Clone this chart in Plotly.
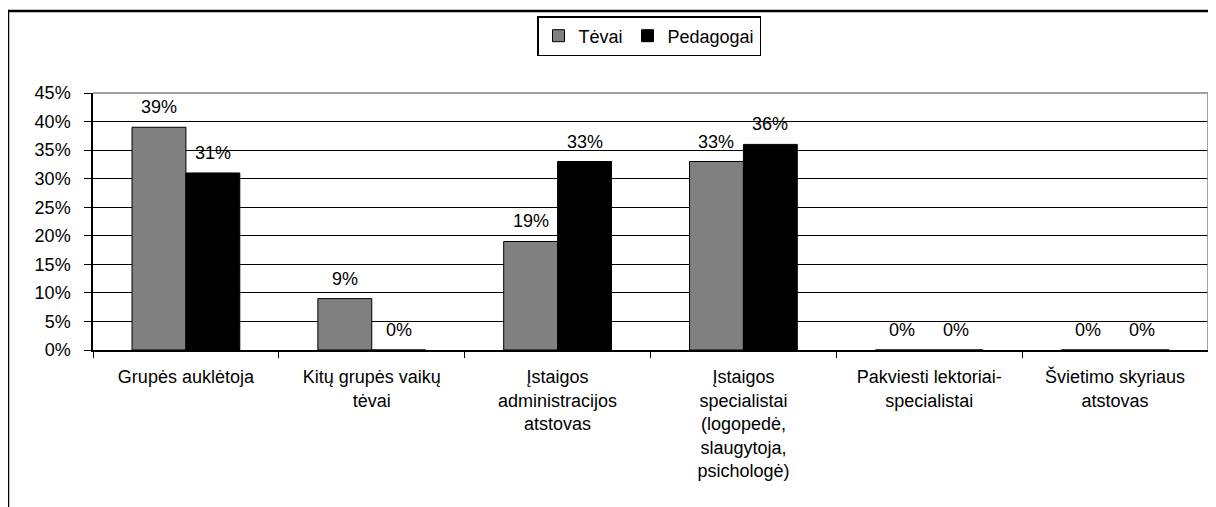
import plotly.graph_objects as go

# data
categories = [
    "Grupės auklėtoja",
    "Kitų grupės vaikų<br>tėvai",
    "Įstaigos<br>administracijos<br>atstovas",
    "Įstaigos<br>specialistai<br>(logopedė,<br>slaugytoja,<br>psichologė)",
    "Pakviesti lektoriai-<br>specialistai",
    "Švietimo skyriaus<br>atstovas",
]
tevai = [0.39, 0.09, 0.19, 0.33, 0.0, 0.0]
pedagogai = [0.31, 0.0, 0.33, 0.36, 0.0, 0.0]
y_ticks = [0, 0.05, 0.10, 0.15, 0.20, 0.25, 0.30, 0.35, 0.40, 0.45]

W, H = 1216, 507
OFF = 8  # page body margin shifts the figure by this much
ML, MR, MT, MB = 93 - OFF, 8 + OFF, 93 - OFF, 157 + OFF
FONT = dict(family="Liberation Sans, Arial, sans-serif", size=18, color="black")
BARGAP = 0.42


def px_x(p):
    # page pixel -> paper x
    return (p - OFF - ML) / (W - ML - MR)


def px_y(p):
    # page pixel -> paper y
    return (H - MB - (p - OFF)) / (H - MT - MB)


fig = go.Figure()
fig.add_trace(go.Bar(x=categories, y=tevai, name="Tėvai",
                     marker=dict(color="#808080", line=dict(color="black", width=1))))
fig.add_trace(go.Bar(x=categories, y=pedagogai, name="Pedagogai",
                     marker=dict(color="#000000", line=dict(color="black", width=1))))

# value labels above bars
half = (1 - BARGAP) / 4
annotations = []
for i, (a, b) in enumerate(zip(tevai, pedagogai)):
    for off, v in ((-half, a), (half, b)):
        annotations.append(dict(x=i + off, y=v, xref="x", yref="y",
                                text=f"{round(v * 100)}%", showarrow=False,
                                yanchor="middle", yshift=20, font=FONT))

shapes = [
    # outer frame (top + left)
    dict(type="line", xref="paper", yref="paper", x0=px_x(8), y0=px_y(11),
         x1=px_x(W + 20), y1=px_y(11), line=dict(color="black", width=2.5)),
    dict(type="line", xref="paper", yref="paper", x0=px_x(8), y0=px_y(11),
         x1=px_x(8), y1=px_y(H + 20), line=dict(color="black", width=2.5)),
    # plot area border top + right
    dict(type="line", xref="paper", yref="paper", x0=0, y0=1, x1=1, y1=1,
         line=dict(color="#808080", width=1.5), layer="above"),
    dict(type="line", xref="paper", yref="paper", x0=1, y0=0, x1=1, y1=1,
         line=dict(color="#808080", width=1.5), layer="above"),
]

fig.update_layout(
    width=W, height=H,
    margin=dict(l=ML, r=MR, t=MT, b=MB),
    paper_bgcolor="white", plot_bgcolor="white",
    font=FONT,
    barmode="group", bargap=BARGAP, bargroupgap=0,
    showlegend=True,
    legend=dict(orientation="h", xref="container", yref="container",
                x=(649 - OFF) / W, xanchor="center", y=1 - (16 - OFF) / H,
                yanchor="top", bordercolor="black", borderwidth=1.5, font=FONT,
                itemwidth=30, tracegroupgap=0),
    annotations=annotations,
    shapes=shapes,
)
fig.update_xaxes(showline=True, linecolor="black", linewidth=1.5,
                 ticks="outside", tickson="boundaries", ticklen=6,
                 tickcolor="black", showgrid=False, ticklabelstandoff=10,
                 tickfont=FONT)
fig.update_yaxes(range=[0, 0.45], tickvals=y_ticks, tickformat=".0%",
                 showline=True, linecolor="black", linewidth=1.5,
                 ticks="outside", ticklen=7, tickcolor="black",
                 showgrid=True, gridcolor="black", gridwidth=1,
                 zeroline=False, ticklabelstandoff=10, tickfont=FONT)

fig.write_html("out.html")
